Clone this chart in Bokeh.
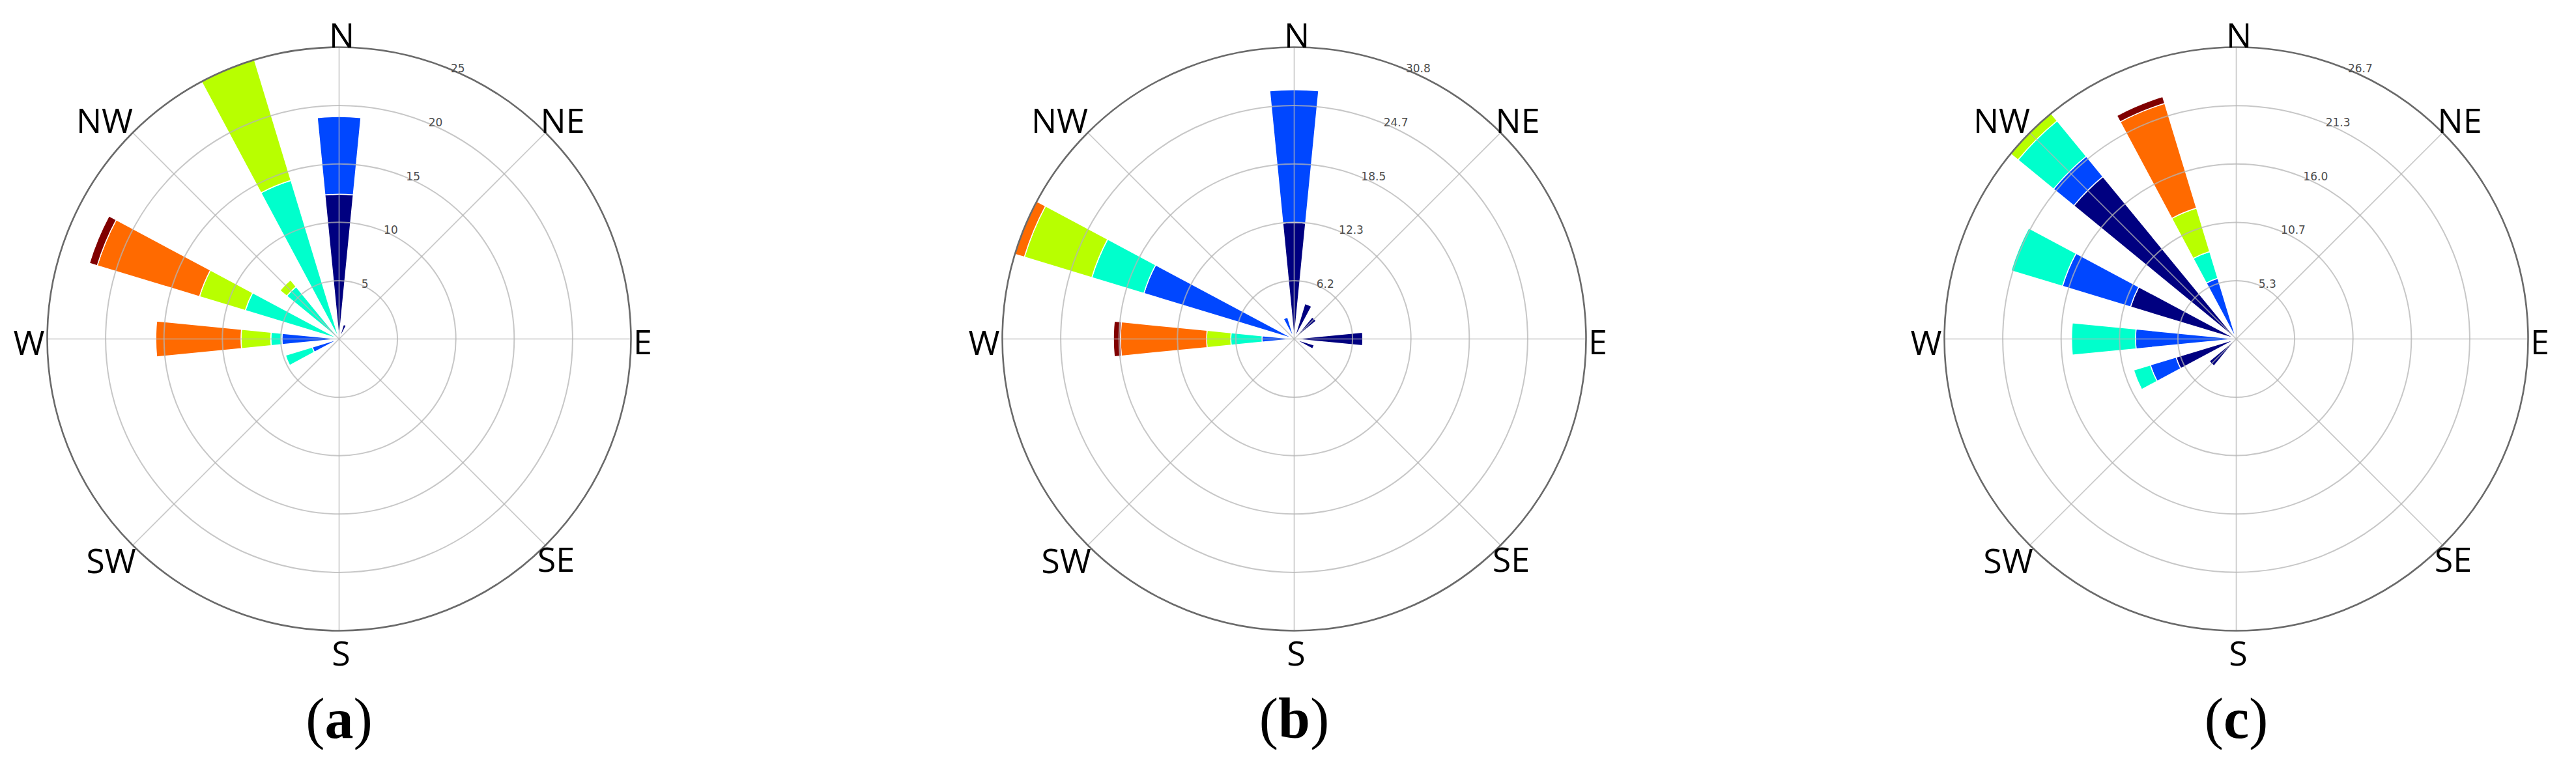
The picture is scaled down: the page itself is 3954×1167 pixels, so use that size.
import numpy as np
from bokeh.plotting import figure
from bokeh.models import ColumnDataSource, Range1d
from bokeh.layouts import row
from bokeh.embed import file_html
from bokeh.resources import INLINE
from bokeh.core.properties import value

# ---------------- data ----------------
directions = ["N", "NNE", "NE", "ENE", "E", "ESE", "SE", "SSE",
              "S", "SSW", "SW", "WSW", "W", "WNW", "NW", "NNW"]
compass_labels = ["N", "NE", "E", "SE", "S", "SW", "W", "NW"]
bin_colors = ["#000080", "#0047ff", "#00ffcc", "#b8ff00", "#ff6a00", "#800000"]

#            N     NNE  NE   ENE  E     ESE  SE   SSE  S    SSW  SW   WSW   W     WNW   NW    NNW
a_bin1 = [12.4,  1.3, 0.0, 0.0, 0.0,  0.0, 0.0, 0.0, 0.0, 0.0, 0.0, 0.0,  0.0,  0.0,  0.0,  0.0]
a_bin2 = [6.65,  0.0, 0.0, 0.0, 0.0,  0.0, 0.0, 0.0, 0.0, 0.0, 0.0, 2.4,  4.9,  0.0,  0.0,  0.0]
a_bin3 = [0.0,   0.0, 0.0, 0.0, 0.0,  0.0, 0.0, 0.0, 0.0, 0.0, 0.0, 2.4,  0.95, 8.4,  5.8,  14.2]
a_bin4 = [0.0,   0.0, 0.0, 0.0, 0.0,  0.0, 0.0, 0.0, 0.0, 0.0, 0.0, 0.0,  2.55, 4.1,  0.75, 10.8]
a_bin5 = [0.0,   0.0, 0.0, 0.0, 0.0,  0.0, 0.0, 0.0, 0.0, 0.0, 0.0, 0.0,  7.3,  9.15, 0.0,  0.0]
a_bin6 = [0.0,   0.0, 0.0, 0.0, 0.0,  0.0, 0.0, 0.0, 0.0, 0.0, 0.0, 0.0,  0.0,  0.7,  0.0,  0.0]
a_ticks = ["5", "10", "15", "20", "25"]

b_bin1 = [12.3,  3.9, 3.0, 0.0, 7.25, 2.2, 0.0, 0.0, 0.0, 0.0, 0.0, 0.0,  0.0,  0.0,  0.0,  0.0]
b_bin2 = [14.05, 0.0, 0.0, 0.0, 0.0,  0.0, 0.0, 0.0, 0.0, 0.0, 0.0, 0.0,  3.4,  16.6, 0.0,  2.4]
b_bin3 = [0.0,   0.0, 0.0, 0.0, 0.0,  0.0, 0.0, 0.0, 0.0, 0.0, 0.0, 0.0,  3.3,  5.75, 0.0,  0.0]
b_bin4 = [0.0,   0.0, 0.0, 0.0, 0.0,  0.0, 0.0, 0.0, 0.0, 0.0, 0.0, 0.0,  2.55, 7.45, 0.0,  0.0]
b_bin5 = [0.0,   0.0, 0.0, 0.0, 0.0,  0.0, 0.0, 0.0, 0.0, 0.0, 0.0, 0.0,  9.1,  1.04, 0.0,  0.0]
b_bin6 = [0.0,   0.0, 0.0, 0.0, 0.0,  0.0, 0.0, 0.0, 0.0, 0.0, 0.0, 0.0,  0.75, 0.0,  0.0,  0.0]
b_ticks = ["6.2", "12.3", "18.5", "24.7", "30.8"]

c_bin1 = [0.0,   0.0, 0.0, 0.0, 0.0,  0.0, 0.0, 0.0, 0.0, 0.0, 3.2, 5.75, 0.0,  10.1, 19.2, 0.0]
c_bin2 = [0.0,   0.0, 0.0, 0.0, 0.0,  0.0, 0.0, 0.0, 0.0, 0.0, 0.0, 2.45, 9.2,  6.5,  2.4,  5.8]
c_bin3 = [0.0,   0.0, 0.0, 0.0, 0.0,  0.0, 0.0, 0.0, 0.0, 0.0, 0.0, 1.6,  5.85, 4.9,  4.2,  2.55]
c_bin4 = [0.0,   0.0, 0.0, 0.0, 0.0,  0.0, 0.0, 0.0, 0.0, 0.0, 0.0, 0.0,  0.0,  0.0,  0.87, 4.15]
c_bin5 = [0.0,   0.0, 0.0, 0.0, 0.0,  0.0, 0.0, 0.0, 0.0, 0.0, 0.0, 0.0,  0.0,  0.0,  0.0,  10.0]
c_bin6 = [0.0,   0.0, 0.0, 0.0, 0.0,  0.0, 0.0, 0.0, 0.0, 0.0, 0.0, 0.0,  0.0,  0.0,  0.0,  0.65]
c_ticks = ["5.3", "10.7", "16.0", "21.3", "26.7"]

panels = [
    ("a", [a_bin1, a_bin2, a_bin3, a_bin4, a_bin5, a_bin6], a_ticks),
    ("b", [b_bin1, b_bin2, b_bin3, b_bin4, b_bin5, b_bin6], b_ticks),
    ("c", [c_bin1, c_bin2, c_bin3, c_bin4, c_bin5, c_bin6], c_ticks),
]

# ---------------- layout / style ----------------
FIG_W, FIG_H = 1312, 1151
CENTER_X = [520, 674, 808]     # panel centre inside each figure (px from left)
CENTER_Y = 520                 # px from top
R_PX = 448                     # outer circle radius in px
OPENING = 0.5                  # fraction of sector width used by a bar
GRID = "#b4b4b4"

# label placement (px from the centre), per compass label
label_off = [(4, 468), (343, 337), (466, -3), (333, -337),
             (3, -481), (-350, -339), (-476, -4), (-360, 337)]
letter_half = {"a": 22, "b": 24.5, "c": 19.5}
CAPTION_DY = -583


def make_panel(idx, letter, bins, ticks):
    bins = np.array(bins, dtype=float)
    totals = bins.sum(axis=0)
    rmax = totals.max()
    s = R_PX / rmax
    cx, cy = CENTER_X[idx], CENTER_Y
    p = figure(width=FIG_W, height=FIG_H,
               x_range=Range1d(-cx / s, (FIG_W - cx) / s),
               y_range=Range1d(-(FIG_H - cy) / s, cy / s),
               x_axis_type=None, y_axis_type=None,
               output_backend="svg", toolbar_location=None,
               min_border=0, outline_line_color=None,
               background_fill_color="white", border_fill_color="white")
    p.grid.visible = False

    nsec = len(directions)
    dtheta = 360.0 / nsec
    half = dtheta * OPENING / 2
    inner, outer, start, end, color = [], [], [], [], []
    for i in range(bins.shape[0]):
        for j in range(nsec):
            v = bins[i, j]
            if v <= 0:
                continue
            r0 = bins[:i, j].sum()
            theta = 90.0 - j * dtheta
            inner.append(r0)
            outer.append(r0 + v)
            start.append(np.radians(theta - half))
            end.append(np.radians(theta + half))
            color.append(bin_colors[i])
    src = ColumnDataSource(dict(x=[0] * len(inner), y=[0] * len(inner),
                                inner=inner, outer=outer,
                                start=start, end=end, color=color))
    p.annular_wedge(x="x", y="y", inner_radius="inner", outer_radius="outer",
                    start_angle="start", end_angle="end", fill_color="color",
                    line_color="white", line_width=1.5, source=src)

    # grid rings and spokes
    rings = [rmax * (k + 1) / len(ticks) for k in range(len(ticks))]
    p.circle(x=[0] * (len(rings) - 1), y=[0] * (len(rings) - 1), radius=rings[:-1],
             fill_color=None, line_color=GRID, line_width=2, line_alpha=0.75)
    spoke_ang = np.radians(np.arange(0, 360, 45))
    p.segment(x0=[0] * 8, y0=[0] * 8,
              x1=list(rmax * np.sin(spoke_ang)), y1=list(rmax * np.cos(spoke_ang)),
              line_color=GRID, line_width=1.6, line_alpha=0.75)
    p.circle(x=[0], y=[0], radius=[rmax], fill_color=None,
             line_color="#6a6a6a", line_width=2.6)

    # radial tick labels along 22.5 deg
    a = np.radians(22.5)
    p.text(x=[r * np.sin(a) for r in rings], y=[r * np.cos(a) for r in rings],
           text=ticks, text_align="left", text_baseline="alphabetic",
           y_offset=-2, text_font=value("DejaVu Sans"), text_font_size="17px",
           text_color="#4d4d4d")

    # compass labels
    p.text(x=[o[0] / s for o in label_off], y=[o[1] / s for o in label_off],
           text=compass_labels, text_align="center", text_baseline="middle",
           text_font=value("Open Sans"), text_font_size="52px", text_color="black")

    # caption: regular parentheses around a bold letter
    cap_y = CAPTION_DY / s
    hw = letter_half[letter] / s
    p.text(x=[0], y=[cap_y], text=[letter], text_align="center",
           text_baseline="alphabetic", text_font=value("Liberation Serif"),
           text_font_style="bold", text_font_size="88px", text_color="black")
    p.text(x=[-hw], y=[cap_y], text=["("], text_align="right",
           text_baseline="alphabetic", text_font=value("Liberation Serif"),
           text_font_size="88px", text_color="black")
    p.text(x=[hw], y=[cap_y], text=[")"], text_align="left",
           text_baseline="alphabetic", text_font=value("Liberation Serif"),
           text_font_size="88px", text_color="black")
    return p


figs = [make_panel(i, letter, bins, ticks) for i, (letter, bins, ticks) in enumerate(panels)]
layout = row(*figs)
open("out.html", "w").write(file_html(layout, INLINE))
